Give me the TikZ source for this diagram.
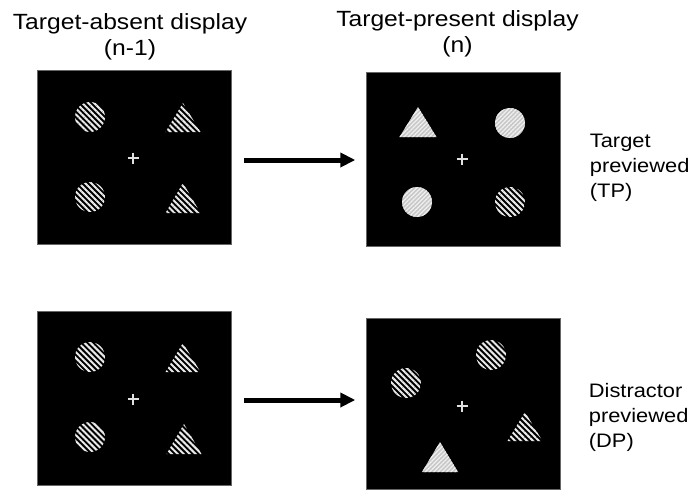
\documentclass[tikz,border=0pt]{standalone}
\usepackage{fontspec}
\setmainfont{Liberation Sans}[FakeStretch=1.12]
\usepackage{tikz}
\usetikzlibrary{positioning,arrows.meta,patterns.meta}

\begin{document}
\begin{tikzpicture}[x=1pt, y=-1pt,
  panel/.style={fill=black, draw=black!60, line width=0.4pt, minimum width=194pt, minimum height=174pt, inner sep=0pt},
  encabezado/.style={font=\fontsize{22}{26}\selectfont, align=center, inner sep=0pt},
  rotulo/.style={font=\fontsize{19.5}{25}\selectfont, align=left, inner sep=0pt, anchor=west},
  rayado/.style={pattern={Lines[angle=-45, distance=4.2pt, line width=2pt]}, pattern color=black!8},
  claro/.style={preaction={fill=black!22}, pattern={Lines[angle=45, distance=3pt, line width=1.2pt]}, pattern color=black!6},
  fijacion/.style={draw=black!12, line width=2pt},
  flecha/.style={-{Triangle[length=15pt, width=14pt]}, line width=5pt, shorten <=13pt, shorten >=11pt}
]
\useasboundingbox (0,0) rectangle (692,490);

\node[panel] (ta1) at (134,157.5) {};
\node[panel] (tp1) at (463.5,159) {};
\node[panel] (ta2) at (134,398) {};
\node[panel, minimum height=171pt] (tp2) at (463.5,403.5) {};

\node[encabezado, above=10pt of ta1, xshift=-4pt] (hdabs) {Target-absent display\\(n-1)};
\node[encabezado, above=15pt of tp1, xshift=-6pt] (hdpres) {Target-present display\\(n)};
\node[rotulo, right=29pt of tp1, yshift=-9pt] (lbtp) {Target\\previewed\\(TP)};
\node[rotulo, right=28pt of tp2, yshift=-14pt] (lbdp) {Distractor\\previewed\\(DP)};

% target-absent, fila superior
\fill[rayado] (90,117) circle[radius=15pt];
\fill[rayado] (90,197) circle[radius=15pt];
\fill[rayado] (183,103) -- ++(17.5,29) -- ++(-35,0) -- cycle;
\fill[rayado] (183,183) -- ++(17.5,30) -- ++(-35,0) -- cycle;
\draw[fijacion] (133,158) +(-5.5,0) -- +(5.5,0) +(0,-5.5) -- +(0,5.5);

% target-present (TP)
\fill[claro] (418,107) -- ++(18.5,30) -- ++(-37,0) -- cycle;
\fill[claro] (510,123) circle[radius=15pt];
\fill[claro] (417,202) circle[radius=15pt];
\fill[rayado] (510,202) circle[radius=15pt];
\draw[fijacion] (462,159) +(-5.5,0) -- +(5.5,0) +(0,-5.5) -- +(0,5.5);

% target-absent, fila inferior
\fill[rayado] (90,357) circle[radius=15pt];
\fill[rayado] (90,437) circle[radius=15pt];
\fill[rayado] (183,343) -- ++(17.5,29) -- ++(-35,0) -- cycle;
\fill[rayado] (184,424) -- ++(17.5,30) -- ++(-35,0) -- cycle;
\draw[fijacion] (133,399) +(-5.5,0) -- +(5.5,0) +(0,-5.5) -- +(0,5.5);

% target-present (DP)
\fill[rayado] (491,355) circle[radius=15pt];
\fill[rayado] (406,383) circle[radius=15pt];
\fill[rayado] (525,412) -- ++(17.5,29) -- ++(-35,0) -- cycle;
\fill[claro] (440,442) -- ++(18,30) -- ++(-36,0) -- cycle;
\draw[fijacion] (462,406) +(-5.5,0) -- +(5.5,0) +(0,-5.5) -- +(0,5.5);

\draw[flecha] ([yshift=-2.5pt]ta1.east) -- ([yshift=-2.5pt]ta1.east -| tp1.west);
\draw[flecha] ([yshift=-2pt]ta2.east) -- ([yshift=-2pt]ta2.east -| tp2.west);
\end{tikzpicture}
\end{document}
